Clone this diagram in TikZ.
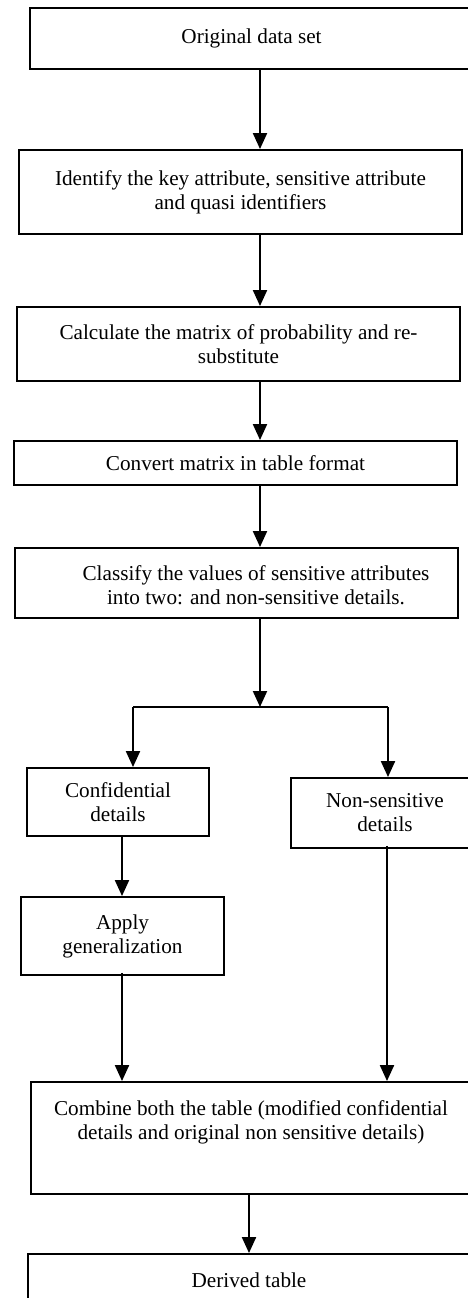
\documentclass[tikz,border=0pt]{standalone}
\usepackage{fontspec}
\setmainfont{Liberation Serif}
\usetikzlibrary{arrows.meta}
\begin{document}
\begin{tikzpicture}[x=1pt,y=-1pt,
  box/.style={draw,line width=1.9pt,minimum width=#1,inner sep=0pt,align=center,
    font=\fontsize{21.2}{24}\selectfont},
  txt/.style={inner sep=0pt,align=center,font=\fontsize{21.2}{24}\selectfont},
  arr/.style={line width=2.1pt,-{Triangle[width=14pt,length=16pt]}},
  ln/.style={line width=2.1pt}]
\useasboundingbox (0,0) rectangle (468,1298);
\clip (0,0) rectangle (468,1298);
\fill[white] (0,0) rectangle (468,1298);
% boxes
\node[box=443pt,minimum height=61pt] (b1) at (251.5,38.5) {Original data set};
\node[box=443pt,minimum height=84pt] (b2) at (240.5,192) {Identify the key attribute, sensitive attribute\\and quasi identifiers};
\node[box=443pt,minimum height=74pt] (b3) at (238.5,344) {Calculate the matrix of probability and re-\\substitute};
\node[box=443pt,minimum height=44pt] (b4) at (235.5,463) {Convert matrix in table format};
\node[box=443pt,minimum height=70pt] (b5) at (236.5,583) {};
\node[txt] (t5) at (256,585) {Classify the values of sensitive attributes\\into two: and non-sensitive details.};
\node[box=182pt,minimum height=68pt] (conf) at (118,802) {Confidential\\details};
\node[box=188pt,minimum height=70pt] (nons) at (385,813) {Non-sensitive\\details};
\node[box=203pt,minimum height=78pt] (apply) at (122.5,936) {Apply\\generalization};
\node[box=440pt,minimum height=112pt] (comb) at (251,1138) {};
\node[txt] (tc) at (251,1122) {Combine both the table (modified confidential\\details and original non sensitive details)};
\node[box=442pt,minimum height=70pt] (der) at (249,1289) {};
\node[txt] (td) at (249,1280) {Derived table};
% helper coordinates
\coordinate (c) at (260,0);
\coordinate (j) at (260,707);
\coordinate (jl) at (133,707);
\coordinate (jr) at (388,707);
\coordinate (cl) at (122,0);
\coordinate (cr) at (387,0);
\coordinate (cd) at (249,0);
% connectors
\draw[arr] (c |- b1.south) -- (c |- b2.north);
\draw[arr] (c |- b2.south) -- (c |- b3.north);
\draw[arr] (c |- b3.south) -- (c |- b4.north);
\draw[arr] (c |- b4.south) -- (c |- b5.north);
\draw[arr] (c |- b5.south) -- (j);
\draw[ln] (jl) -- (jr);
\draw[arr] (jl) -- (jl |- conf.north);
\draw[arr] (jr) -- (jr |- nons.north);
\draw[arr] (cl |- conf.south) -- (cl |- apply.north);
\draw[arr] ([yshift=3pt]cl |- apply.south) -- (cl |- comb.north);
\draw[arr] ([yshift=3pt]cr |- nons.south) -- (cr |- comb.north);
\draw[arr] (cd |- comb.south) -- (cd |- der.north);
\end{tikzpicture}
\end{document}
